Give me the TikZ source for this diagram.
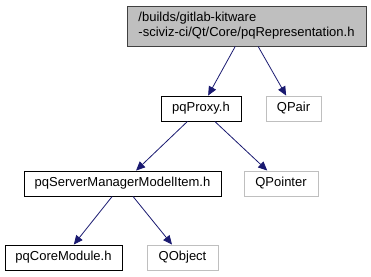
\documentclass[tikz,border=0pt]{standalone}
\usepackage{fontspec}
\setmainfont{Liberation Sans}
\usetikzlibrary{arrows.meta}
\definecolor{edgeblue}{HTML}{191970}
\definecolor{boxgray}{HTML}{BFBFBF}
\definecolor{rootline}{HTML}{404040}
\tikzset{
  file/.style={draw=black, line width=0.9pt, inner sep=0pt, minimum height=25pt, font=\fontsize{13}{15}\selectfont},
  extfile/.style={file, draw=boxgray},
  rootfile/.style={file, fill=boxgray, draw=rootline, minimum height=40pt, align=left},
  edge/.style={->, draw=edgeblue, line width=0.8pt}
}
\begin{document}
\begin{tikzpicture}[x=1pt, y=-1pt, >={Triangle[length=9pt,width=8pt]}]
\useasboundingbox (0,0) rectangle (371,276);
\node[rootfile, minimum width=239pt] (repr) at (246.5,26) {/builds/gitlab-kitware\\-sciviz-ci/Qt/Core/pqRepresentation.h};
\node[file, minimum width=80pt] (proxy) at (201,108.5) {pqProxy.h};
\node[extfile, minimum width=55pt] (qpair) at (293.5,108.5) {QPair};
\node[file, minimum width=197pt] (smitem) at (122.5,183.5) {pqServerManagerModelItem.h};
\node[extfile, minimum width=74pt] (qpointer) at (281,183.5) {QPointer};
\node[file, minimum width=117pt] (coremod) at (63.5,257.5) {pqCoreModule.h};
\node[extfile, minimum width=71pt] (qobject) at (182.5,257.5) {QObject};
\draw[edge] (repr) -- (proxy);
\draw[edge] (repr) -- (qpair);
\draw[edge] (proxy) -- (smitem);
\draw[edge] (proxy) -- (qpointer);
\draw[edge] (smitem) -- (coremod);
\draw[edge] (smitem) -- (qobject);
\end{tikzpicture}
\end{document}
